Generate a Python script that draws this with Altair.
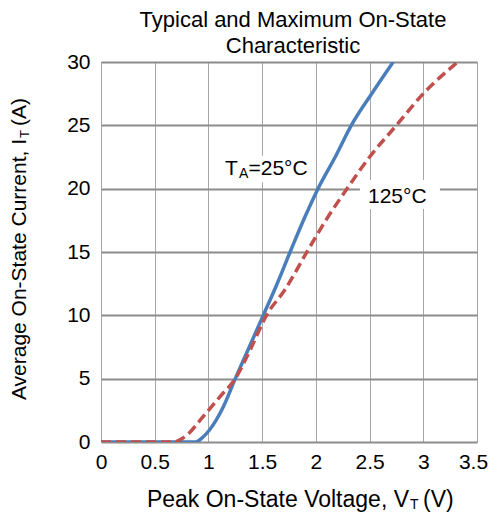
import altair as alt
import pandas as pd

FONT = "Liberation Sans"

# 25°C typical curve (V, A)
v25 = [0, 0.5, 0.8, 0.88, 0.95, 1.01, 1.14, 1.25, 1.37, 1.51, 1.63, 1.77, 1.9, 2.02, 2.18, 2.33, 2.52, 2.72]
i25 = [0, 0, 0, 0, 0.4, 0.95, 2.8, 5.0, 7.3, 10.0, 12.3, 15.2, 17.8, 20.0, 22.5, 25.0, 27.5, 30.0]
# 125°C curve (V, A)
v125 = [0, 0.5, 0.67, 0.8, 0.95, 1.11, 1.25, 1.39, 1.54, 1.71, 1.93, 2.1, 2.29, 2.5, 2.75, 3.0, 3.32]
i125 = [0, 0, 0, 0.55, 2.0, 3.6, 5.0, 7.3, 10.0, 12.0, 15.2, 17.6, 20.0, 22.5, 25.0, 27.5, 30.0]

x_ticks = [0, 0.5, 1, 1.5, 2, 2.5, 3, 3.5]
y_ticks = [0, 5, 10, 15, 20, 25, 30]

title_lines = ["Typical and Maximum On-State", "Characteristic"]

# annotation label boxes (data coords)
box_x = [1.06, 2.41]
box_x2 = [2.0, 3.155]
box_y = [20.5, 18.39]
box_y2 = [22.6, 20.68]

d25 = pd.DataFrame({"v": v25, "i": i25})
d125 = pd.DataFrame({"v": v125, "i": i125})

xs = alt.Scale(domain=[0, 3.5], nice=False, zero=False)
ys = alt.Scale(domain=[0, 30], nice=False)

xaxis = alt.Axis(values=x_ticks, title=None, grid=True, gridColor="#a6a6a6", gridWidth=1,
                 domain=False, ticks=False, labelFont=FONT, labelFontSize=21, labelColor="black",
                 labelPadding=9, labelFlush=False, labelOverlap=False,
                 labelOffset=alt.ExprRef("datum.value == 3.5 ? -4 : 0"),
                 labelExpr="format(datum.value, '')")
yaxis = alt.Axis(values=y_ticks, title=None, grid=True, gridColor="#8c8c8c", gridWidth=2,
                 domain=False, ticks=False, labelFont=FONT, labelFontSize=21, labelColor="black",
                 labelPadding=11)

base_axes = alt.Chart(pd.DataFrame({"v": [0], "i": [0]})).mark_point(opacity=0).encode(
    x=alt.X("v:Q", scale=xs, axis=xaxis),
    y=alt.Y("i:Q", scale=ys, axis=yaxis),
)

boxes = alt.Chart(pd.DataFrame({"x": box_x, "x2": box_x2, "y": box_y, "y2": box_y2})).mark_rect(
    color="white").encode(
    x=alt.X("x:Q", scale=xs), x2="x2", y=alt.Y("y:Q", scale=ys), y2="y2")

line25 = alt.Chart(d25).mark_line(color="#4a7ebb", strokeWidth=3.5, interpolate="monotone",
                                  clip=True).encode(
    x=alt.X("v:Q", scale=xs), y=alt.Y("i:Q", scale=ys), order="v:Q")
line125 = alt.Chart(d125).mark_line(color="#c0504d", strokeWidth=3.5, strokeDash=[10, 5],
                                    interpolate="monotone", clip=True).encode(
    x=alt.X("v:Q", scale=xs), y=alt.Y("i:Q", scale=ys), order="v:Q")

# in-plot labels
lab = pd.DataFrame({
    "v": [1.154, 1.285, 1.373, 2.485],
    "i": [21.08, 20.84, 21.08, 18.84],
    "t": ["T", "A", "=25°C", "125°C"],
    "s": [21, 14, 21, 21],
})
labels = alt.Chart(lab).mark_text(font=FONT, align="left", baseline="alphabetic", color="black").encode(
    x=alt.X("v:Q", scale=xs), y=alt.Y("i:Q", scale=ys), text="t:N",
    size=alt.Size("s:Q", scale=None, legend=None))


def txt(t, x, y, size, align, angle=0):
    return alt.Chart(pd.DataFrame({"t": [t]})).mark_text(
        font=FONT, fontSize=size, align=align, baseline="alphabetic", angle=angle, color="black"
    ).encode(x=alt.value(x), y=alt.value(y), text="t:N")


# chart title
tt1 = txt(title_lines[0], 192, -35, 22, "center")
tt2 = txt(title_lines[1], 192, -9, 22, "center")

# x axis title with subscript
xt1 = txt("Peak On-State Voltage, V", 308, 445, 23, "right")
xt2 = txt("T", 309, 447, 14, "left")
xt3 = txt("(V)", 322, 445, 23, "left")

# y axis title with subscript
yt1 = txt("Average On-State Current, I", -75, 77, 21, "right", 270)
yt2 = txt("T", -72, 76, 13, "left", 270)
yt3 = txt("(A)", -75, 64, 21, "left", 270)

chart = alt.layer(base_axes, boxes, line25, line125, labels,
                  tt1, tt2, xt1, xt2, xt3, yt1, yt2, yt3).properties(
    width=376, height=380,
    autosize=alt.AutoSizeParams(type="none"),
    padding={"left": 93, "top": 54, "right": 12, "bottom": 71},
).configure_view(stroke="black", strokeWidth=2).configure(background="white")

chart.save("out.html", embed_options={"renderer": "svg", "actions": False})
